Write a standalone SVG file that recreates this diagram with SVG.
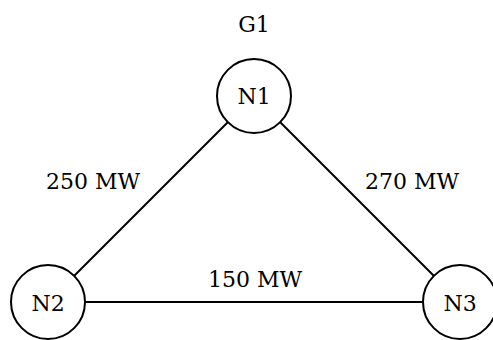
<svg xmlns="http://www.w3.org/2000/svg" width="493" height="340" viewBox="0 0 493 340">
<style>
.n{fill:#fff;stroke:#000;stroke-width:2}
.e{stroke:#000;stroke-width:2;fill:none}
.t{font-family:'DejaVu Serif','Liberation Serif',serif;font-size:22px;fill:#000;text-anchor:middle}
</style>
<rect width="493" height="340" fill="#fff"/>
<g id="connectors">
<line class="e" x1="254" y1="96" x2="48" y2="302"/>
<line class="e" x1="254" y1="96" x2="460" y2="302"/>
<line class="e" x1="48" y1="302" x2="460" y2="302"/>
<text class="t" x="93" y="189">250 MW</text>
<text class="t" x="412" y="189">270 MW</text>
<text class="t" x="255" y="287">150 MW</text>
</g>
<g id="G1"><text class="t" x="254" y="32">G1</text></g>
<g id="N1"><circle class="n" cx="254" cy="96" r="37"/><text class="t" x="254" y="104">N1</text></g>
<g id="N2"><circle class="n" cx="48" cy="302" r="37"/><text class="t" x="48" y="311">N2</text></g>
<g id="N3"><circle class="n" cx="460" cy="302" r="37"/><text class="t" x="460" y="311">N3</text></g>
</svg>
